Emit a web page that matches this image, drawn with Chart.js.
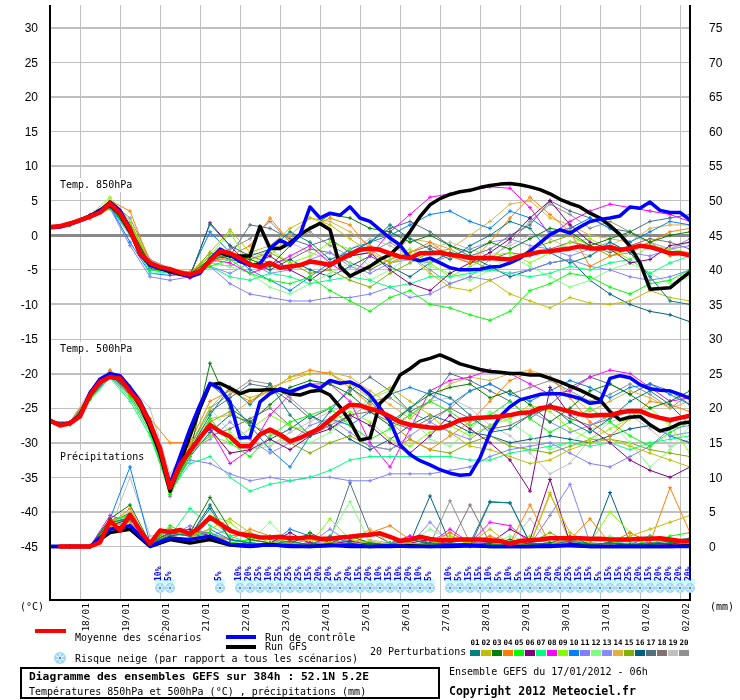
<!DOCTYPE html>
<html>
<head>
<meta charset="utf-8">
<script src="https://cdn.jsdelivr.net/npm/chart.js@4.4.1/dist/chart.umd.min.js"></script>
<style>
body { margin: 0; background: #fff; }
#wrap { position: relative; width: 740px; height: 700px; overflow: hidden; }
#wrap canvas { position: absolute; left: 0; top: 0; }
.t { position: absolute; font-family: "DejaVu Sans Mono", monospace; font-size: 10px; line-height: 12px; white-space: pre; color: #000; }
.b { font-weight: bold; }
.sw { position: absolute; }
.box { position: absolute; left: 20px; top: 667px; width: 420px; height: 32px; border: 2px solid #000; box-sizing: border-box; }
</style>
</head>
<body>
<div id="wrap">
<canvas id="chart" width="740" height="700"></canvas>

<div class="sw" style="left:35px;top:629px;width:31px;height:4px;background:#ff0000"></div>
<div class="t" style="left:75px;top:632px">Moyenne des scénarios</div>
<div class="sw" style="left:226px;top:635px;width:30px;height:4px;background:#0000ff"></div>
<div class="t" style="left:265px;top:632px">Run de contrôle</div>
<div class="sw" style="left:226px;top:645px;width:30px;height:4px;background:#000"></div>
<div class="t" style="left:265px;top:641px">Run GFS</div>
<div class="t" style="left:75px;top:653px">Risque neige (par rapport a tous les scénarios)</div>
<div class="t" style="left:370px;top:646px">20 Perturbations</div>
<div id="perts"></div>

<div class="box"></div>
<div class="t b" style="left:29px;top:670px;font-size:11.3px;line-height:13px">Diagramme des ensembles GEFS sur 384h : 52.1N 5.2E</div>
<div class="t" style="left:29px;top:686px">Températures 850hPa et 500hPa (°C) , précipitations (mm)</div>
<div class="t" style="left:449px;top:666px">Ensemble GEFS du 17/01/2012 - 06h</div>
<div class="t b" style="left:449px;top:685px;font-size:11.5px;line-height:13px">Copyright 2012 Meteociel.fr</div>
</div>

<script>
// hours since 17/01/2012 06h
const hours6 = Array.from({length: 65}, (_, i) => i * 6);
const hours12 = Array.from({length: 33}, (_, i) => i * 12);
const precipHours = hours6.slice(1);

const dayLabels = ['18/01','19/01','20/01','21/01','22/01','23/01','24/01','25/01','26/01','27/01','28/01','29/01','30/01','31/01','01/02','02/02'];
const dayHours = dayLabels.map((d, i) => 18 + 24 * i);
const tempTicks = [30,25,20,15,10,5,0,-5,-10,-15,-20,-25,-30,-35,-40,-45];
const mmTicks = [75,70,65,60,55,50,45,40,35,30,25,20,15,10,5,0];

// axis range (°C), mm axis is shifted by 45
const T_MAX = 33.3;
const T_MIN = -52.74;

// ensemble mean (6h)
const mean850 = [1.2,1.3,1.7,2.2,2.7,3.3,4.6,3.2,0.8,-2.6,-4.0,-4.6,-4.9,-5.4,-5.7,-5.2,-3.7,-2.3,-2.6,-3.3,
  -4.2,-4.6,-4.0,-4.7,-4.5,-4.3,-3.8,-4.0,-4.3,-3.5,-2.8,-2.1,-1.9,-2.1,-2.6,-3.1,-3.3,-2.6,-2.6,-2.5,
  -2.8,-3.0,-3.3,-3.3,-3.3,-3.4,-3.5,-3.0,-2.7,-2.4,-2.3,-2.1,-1.9,-1.6,-1.9,-1.9,-1.7,-2.1,-1.9,-1.5,
  -1.7,-2.1,-2.6,-2.6,-2.9];
const mean500 = [-26.8,-27.5,-27.2,-26.2,-23.1,-21.2,-20.5,-20.7,-22.6,-24.3,-27.2,-30.8,-36.5,-33.2,-31.2,-29.3,-27.4,-28.4,-29.1,-30.5,
  -30.5,-28.8,-28.1,-28.8,-29.8,-29.3,-28.6,-27.9,-26.7,-25.5,-24.5,-24.6,-25.1,-25.5,-26.2,-27.0,-27.4,-27.6,-27.8,-27.9,
  -27.4,-26.7,-26.5,-26.4,-26.3,-26.2,-26.0,-25.7,-25.6,-25.0,-24.8,-25.1,-25.5,-25.9,-26.1,-26.0,-26.0,-25.6,-25.4,-25.4,
  -26.0,-26.4,-26.7,-26.4,-26.1];
const meanPrecip = [0,0,0,0,0.6,3.7,2.3,4.6,2.3,0.4,2.3,2.1,2.4,1.8,2.8,4.2,3.3,2.3,1.8,1.6,
  1.3,1.3,1.4,1.2,1.2,1.4,1.1,1.1,1.3,1.4,1.6,1.7,1.9,1.4,0.8,1.0,1.4,1.1,0.9,0.9,
  1.0,1.0,1.0,0.9,0.8,0.4,0.8,0.9,1.0,1.2,1.2,1.2,1.2,1.1,1.1,1.0,1.0,1.0,1.1,1.1,
  1.2,1.0,0.8,0.8];

// control run (6h)
const ctrl850 = [1.1,1.2,1.6,2.1,2.8,3.5,4.8,3.6,1.0,-2.8,-4.3,-4.8,-5.0,-5.5,-6.0,-5.5,-3.5,-2.0,-2.8,-3.8,
  -4.3,-4.2,-1.9,-0.7,-1.4,0.1,4.1,2.5,3.2,2.9,4.1,2.5,2.0,0.8,-0.4,-1.4,-3.3,-3.7,-3.3,-4.0,
  -4.7,-5.0,-5.0,-4.9,-4.6,-4.5,-4.0,-3.3,-2.3,-1.1,0.1,0.8,0.3,1.2,2.0,2.3,2.5,2.8,4.1,3.9,
  4.8,3.6,3.3,3.3,2.2];
const ctrl500 = [-26.9,-27.4,-27.1,-26.0,-22.8,-20.8,-20.0,-20.3,-22.0,-24.0,-27.0,-31.0,-36.0,-32.0,-28.0,-24.5,-21.4,-22.2,-24.1,-29.3,
  -29.2,-24.1,-22.9,-22.2,-22.6,-22.1,-21.6,-22.1,-21.0,-21.4,-21.2,-21.9,-23.1,-25.0,-26.9,-30.3,-31.7,-32.6,-33.2,-33.9,
  -34.4,-34.7,-34.6,-32.2,-28.6,-26.2,-24.8,-23.8,-23.4,-23.0,-22.9,-22.9,-23.2,-23.6,-24.3,-24.1,-20.7,-20.3,-20.6,-21.6,
  -22.2,-22.4,-22.5,-23.0,-23.6];
const ctrlPrecip = [0,0,0,2.5,3.0,0.1,1.2,1.0,1.5,0.3,0.1,0.2,0.1,0,0.1,0.2,0,0.1,0,0,0.1,0.2,0,0,0,0.1,0.1,0,0,0,0,0,0];

// GFS operational run (6h)
const gfs850 = [1.2,1.3,1.7,2.2,2.8,3.6,4.4,3.0,0.5,-2.5,-4.2,-4.8,-5.2,-5.6,-5.9,-5.3,-3.5,-2.5,-3.0,-3.0,
  -3.0,1.3,-1.9,-1.9,-1.1,0.1,1.0,1.7,0.8,-4.5,-5.9,-5.2,-4.5,-3.5,-2.8,-1.4,0.5,2.7,4.4,5.3,
  5.9,6.3,6.5,6.9,7.2,7.4,7.5,7.3,7.0,6.6,6.0,5.2,4.6,4.1,3.2,2.5,1.4,0.1,-1.6,-4.0,
  -7.8,-7.7,-7.6,-6.4,-5.3];
const gfs500 = [-26.8,-27.4,-27.2,-26.1,-22.9,-20.9,-20.2,-20.5,-22.4,-24.6,-27.8,-31.5,-37.0,-33.0,-29.0,-25.0,-21.6,-21.4,-22.1,-22.9,
  -22.4,-22.4,-22.3,-22.4,-22.9,-23.1,-22.6,-22.4,-23.1,-24.8,-26.9,-29.6,-29.3,-24.3,-22.9,-20.2,-19.3,-18.2,-17.8,-17.3,
  -17.9,-18.6,-19.0,-19.4,-19.7,-19.8,-20.0,-20.0,-20.2,-20.2,-20.7,-21.2,-21.8,-22.4,-23.1,-23.8,-25.5,-26.7,-26.3,-26.2,
  -27.4,-28.3,-27.9,-27.2,-27.0];
const gfsPrecip = [0,0,0,2.0,2.5,0.0,1.0,0.5,1.0,0.2,0,0.3,0,0,0.2,0,0,0,0.1,0,0,0.1,0,0,0,0,0.2,0,0,0,0,0,0.1];

// 20 perturbations (12h), members 01..20
const pertColors = ['#008080','#c0c000','#008000','#ff8000','#00ff00','#800080','#00ff80','#ff00ff','#80ff00','#0080ff',
  '#8080ff','#80ff80','#8888ff','#e0b040','#80b000','#006080','#507080','#807070','#c0c0c0','#909090'];

const pert850 = [
  [1.2,1.5,2.6,4.0,0.8,-4.5,-5.2,-5.8,1.6,-1.5,-3.0,-2.0,0.5,-1.0,-3.5,-2.5,-1.0,1.5,-0.5,-2.0,-3.5,-1.5,0.0,2.0,1.0,-2.5,-4.0,-3.0,-1.0,-2.5,-6.0,-9.5,-10.0],
  [1.1,1.6,2.5,3.8,1.5,-3.8,-5.1,-5.5,-2.5,0.8,-2.5,-1.5,1.0,2.5,1.5,-0.5,-2.5,-4.0,-3.0,-5.5,-7.5,-8.0,-6.5,-8.5,-9.5,-10.5,-9.0,-9.8,-10.0,-9.5,-8.0,-9.0,-9.5],
  [1.2,1.7,2.9,4.6,1.2,-4.3,-5.3,-5.6,-3.5,-3.0,-3.5,-4.5,-1.5,1.0,3.0,2.5,1.0,0.5,-1.0,0.0,-1.5,-2.5,-1.0,-2.0,-0.5,1.0,0.5,-1.5,-0.5,0.5,-1.0,0.0,0.5],
  [1.3,1.6,2.8,5.0,3.5,-4.0,-5.0,-5.3,-4.0,-3.0,-1.5,2.5,-1.0,1.0,2.5,1.5,-2.0,-4.0,-2.5,-1.0,-3.0,-4.0,-1.0,2.5,5.5,3.0,0.5,-4.5,-3.0,-2.5,-1.0,0.5,1.0],
  [1.2,1.5,2.7,4.3,0.5,-5.0,-5.2,-5.7,-4.5,-3.5,-5.5,-6.5,-7.0,-6.0,-8.0,-9.5,-11.0,-9.0,-8.0,-10.0,-10.5,-11.5,-12.3,-11.0,-8.0,-7.0,-5.5,-6.0,-7.5,-8.5,-7.0,-6.5,-5.0],
  [1.2,1.6,2.7,4.3,1.0,-4.2,-5.5,-6.0,1.8,-1.5,-4.5,-3.0,-5.0,-6.5,-4.5,-3.0,-2.5,-5.0,-7.0,-8.0,-5.5,-4.0,-2.5,-0.5,2.5,5.0,1.5,-1.0,-2.0,-4.0,-3.5,-1.5,-1.0],
  [1.1,1.5,2.6,4.0,0.2,-5.5,-5.4,-5.8,-4.5,-6.0,-6.5,-5.5,-6.0,-7.0,-6.5,-6.0,-6.5,-7.5,-7.0,-6.0,-6.0,-5.5,-5.0,-5.5,-6.0,-5.5,-4.5,-5.0,-4.0,-3.5,-5.5,-4.0,-3.0],
  [1.3,1.7,2.8,4.5,1.0,-4.0,-5.5,-6.2,-3.5,-4.0,-5.5,-4.5,-3.0,-1.5,-4.0,-6.0,-3.0,0.5,3.0,5.5,6.0,6.5,7.0,6.8,4.0,0.0,2.0,3.5,4.5,4.0,3.5,3.0,2.0],
  [1.2,1.6,2.9,5.5,2.0,-3.8,-5.0,-5.4,-3.0,0.5,-4.5,-2.0,-4.0,-3.0,-1.0,-2.0,-4.5,-3.5,-2.0,-4.0,-6.0,-4.5,-3.0,-2.5,-4.0,-2.5,-1.0,-0.5,-2.0,-3.5,-1.5,-2.0,-2.5],
  [1.2,1.6,2.6,4.1,-1.0,-5.5,-5.8,-5.6,0.5,-2.5,-5.0,-6.5,-8.0,-6.0,-4.0,-2.0,-1.0,0.0,1.5,3.0,3.5,2.0,1.0,3.5,2.5,0.5,1.0,2.5,1.0,-1.0,0.5,2.0,1.5],
  [1.1,1.4,2.4,3.9,-1.5,-6.0,-6.5,-6.0,-4.5,-7.0,-8.5,-9.0,-9.5,-9.5,-9.0,-9.0,-8.5,-7.5,-9.0,-8.5,-7.0,-6.0,-6.5,-5.5,-5.0,-4.0,-3.5,-4.5,-5.0,-6.0,-6.5,-6.0,-5.0],
  [1.2,1.5,2.7,4.4,0.5,-4.5,-5.2,-5.5,-4.0,-4.5,-5.5,-7.5,-8.5,-7.0,-5.5,-4.0,-6.5,-5.0,-3.0,-4.5,-5.5,-6.5,-5.0,-3.0,-4.5,-6.0,-7.5,-6.5,-5.0,-4.0,-5.5,-7.0,-6.0],
  [1.2,1.6,2.7,4.0,0.0,-5.0,-5.5,-5.9,-4.5,-5.5,-4.0,-5.5,-5.0,-3.5,-2.5,-4.5,-5.5,-4.0,-3.5,-4.0,-3.0,-2.0,-1.0,-0.5,-1.5,-2.0,-3.0,-2.0,-1.0,-2.5,-3.0,-2.0,-1.5],
  [1.3,1.7,2.9,4.5,1.5,-4.0,-5.0,-5.3,-3.5,-3.5,-2.5,-3.0,0.0,2.5,2.0,0.5,-1.5,-3.0,-0.5,-1.0,-2.0,0.0,2.0,4.5,5.0,2.5,1.5,0.0,-0.5,-1.0,1.0,1.5,1.5],
  [1.2,1.6,2.8,4.4,0.8,-4.5,-5.2,-5.8,-3.8,-2.5,-3.5,-2.5,-4.0,-5.5,-5.0,-6.5,-7.5,-5.5,-4.0,-2.5,-2.0,-3.5,-5.0,-4.0,-2.0,-1.0,0.0,-1.5,-3.0,-2.0,-1.0,-3.0,-2.5],
  [1.1,1.5,2.6,4.2,0.3,-4.8,-5.3,-5.7,-2.5,-3.5,-4.0,-5.0,-3.5,-5.0,-6.0,-4.5,-3.0,-4.5,-6.0,-4.0,-2.5,-3.0,-4.5,-6.0,-5.0,-4.0,-3.5,-6.5,-8.5,-10.0,-11.0,-11.5,-12.5],
  [1.2,1.6,2.7,4.3,1.8,-3.9,-5.2,-5.6,-3.0,-3.0,1.5,1.0,-0.5,-1.5,-0.5,-2.5,-1.0,1.0,2.0,0.5,-1.5,-3.0,-2.0,0.0,1.5,5.0,3.5,2.5,1.0,0.5,2.0,2.5,3.0],
  [1.2,1.5,2.6,4.0,0.5,-4.6,-5.3,-6.0,-4.0,-4.5,-3.0,-4.0,-3.5,-2.0,-2.5,-4.0,-5.0,-3.5,-2.5,-1.5,-3.0,-4.0,-3.5,-2.5,-3.0,-2.0,-1.0,-1.5,-2.5,-1.5,-0.5,-1.0,-2.0],
  [1.3,1.7,2.9,4.7,1.4,-4.0,-5.0,-5.5,-3.5,-2.5,-3.5,-2.0,-1.0,-2.5,-3.5,-2.0,-0.5,-1.5,-3.0,-2.0,-1.0,-2.0,-3.0,-1.5,0.0,-0.5,-2.0,-3.0,-1.5,0.0,-1.0,-2.0,-1.0],
  [1.3,1.8,3.0,4.8,2.5,-3.5,-4.8,-5.4,-3.0,-2.0,-0.5,2.0,-1.0,0.5,-1.5,-3.0,-2.5,-1.0,-3.0,-5.0,-7.0,-6.0,-3.5,-1.0,2.0,4.5,3.0,1.0,2.0,0.5,-1.0,-2.0,-0.5]
];

const pert500 = [
  [-27,-27.3,-23.5,-20.0,-22.5,-27.5,-37.0,-31.0,-26.0,-22.0,-24.5,-21.5,-26.0,-29.0,-25.5,-22.0,-24.0,-27.0,-25.0,-22.5,-23.5,-26.0,-28.5,-28.0,-26.0,-24.5,-27.0,-28.5,-26.5,-24.0,-22.5,-24.5,-27.5],
  [-27,-27.2,-23.2,-19.8,-22.2,-26.8,-36.0,-30.5,-25.0,-22.0,-23.5,-22.5,-20.5,-20.0,-20.0,-21.5,-23.5,-22.0,-24.0,-26.0,-28.5,-30.5,-31.0,-32.0,-33.0,-32.5,-31.0,-30.0,-29.5,-30.5,-31.5,-32.5,-33.5],
  [-27,-27.2,-23.4,-20.1,-22.8,-27.3,-36.8,-31.5,-18.5,-25.0,-27.0,-24.5,-22.0,-21.0,-21.5,-23.0,-25.5,-27.5,-25.0,-23.0,-22.0,-21.5,-23.5,-22.5,-24.5,-27.0,-25.0,-22.5,-21.5,-23.0,-25.0,-24.0,-22.5],
  [-27,-27.0,-23.0,-19.5,-22.0,-26.5,-30.0,-30.0,-24.0,-22.5,-24.0,-22.5,-20.5,-19.5,-20.0,-22.0,-24.5,-27.0,-29.5,-31.0,-29.0,-27.0,-24.0,-21.0,-19.8,-20.5,-23.5,-27.0,-29.0,-26.5,-24.0,-24.5,-25.5],
  [-27,-27.3,-23.7,-20.5,-23.5,-28.5,-37.5,-32.0,-26.5,-30.0,-32.0,-29.0,-27.0,-26.0,-25.0,-27.5,-29.5,-28.0,-26.0,-24.0,-25.5,-27.5,-26.0,-24.0,-26.5,-28.5,-27.0,-25.0,-27.0,-29.0,-30.5,-28.5,-27.0],
  [-27,-27.2,-23.3,-20.0,-22.6,-27.0,-36.5,-31.0,-28.0,-31.5,-31.0,-29.5,-31.0,-29.0,-28.0,-26.0,-27.5,-30.0,-31.5,-29.0,-26.0,-28.0,-30.0,-32.5,-37.0,-22.0,-26.0,-28.0,-30.0,-32.5,-34.0,-35.0,-33.5],
  [-27,-27.4,-23.8,-20.6,-24.0,-29.0,-37.0,-33.0,-32.0,-35.0,-37.0,-36.0,-35.5,-35.0,-34.0,-32.5,-32.0,-32.0,-32.0,-32.0,-32.0,-32.5,-32.5,-31.5,-31.0,-30.5,-30.0,-30.5,-30.0,-31.0,-30.0,-29.5,-29.0],
  [-27,-27.1,-23.2,-20.0,-22.6,-27.2,-37.5,-30.5,-28.0,-33.0,-31.0,-26.0,-23.0,-21.5,-21.5,-24.0,-30.0,-33.5,-28.0,-22.5,-21.0,-20.5,-19.5,-20.0,-21.5,-23.0,-22.5,-20.5,-19.5,-20.0,-22.0,-24.0,-23.5],
  [-27,-27.2,-23.4,-20.2,-23.0,-27.8,-37.2,-31.5,-29.0,-30.0,-28.0,-26.0,-27.5,-28.5,-27.0,-25.5,-27.0,-29.5,-30.5,-28.5,-27.5,-29.0,-27.5,-26.5,-24.5,-25.5,-28.0,-29.5,-28.0,-26.5,-25.0,-27.5,-31.5],
  [-27,-27.3,-23.5,-20.2,-22.7,-27.0,-35.5,-29.0,-21.5,-24.0,-27.5,-31.0,-33.5,-29.0,-26.5,-27.5,-25.5,-23.0,-22.0,-23.0,-24.5,-22.5,-21.5,-23.0,-24.0,-22.5,-21.0,-22.0,-23.5,-22.0,-21.5,-23.0,-24.5],
  [-27,-27.3,-23.6,-20.3,-23.2,-28.0,-36.8,-32.5,-33.0,-34.5,-35.5,-35.0,-35.5,-35.0,-35.0,-35.5,-35.5,-34.5,-34.5,-34.5,-34.0,-33.5,-32.0,-31.0,-30.5,-30.0,-31.5,-33.0,-33.5,-32.0,-30.5,-28.0,-27.5],
  [-27,-27.2,-23.4,-20.1,-22.9,-27.5,-36.5,-31.5,-25.0,-28.5,-31.0,-30.0,-29.5,-30.0,-28.5,-26.0,-23.5,-22.5,-26.0,-29.5,-30.5,-28.0,-25.5,-27.0,-29.0,-31.0,-30.0,-28.0,-27.0,-30.0,-33.5,-31.0,-27.5],
  [-27,-27.1,-23.3,-19.9,-22.4,-27.0,-36.6,-31.0,-29.5,-27.0,-29.5,-31.5,-30.0,-27.5,-26.5,-28.5,-30.5,-31.0,-29.0,-27.0,-28.5,-29.5,-27.5,-26.0,-25.5,-27.0,-28.5,-27.5,-26.0,-25.5,-27.5,-29.0,-28.5],
  [-27,-27.1,-23.1,-19.7,-22.2,-26.8,-36.2,-30.8,-26.5,-26.0,-24.0,-22.0,-21.0,-20.0,-19.8,-20.5,-22.5,-24.5,-26.5,-24.0,-21.5,-20.5,-21.0,-20.0,-19.5,-20.5,-23.0,-25.5,-24.0,-22.5,-23.5,-25.0,-24.0],
  [-27,-27.2,-23.4,-20.1,-22.8,-27.4,-36.9,-31.6,-27.0,-25.5,-27.5,-28.5,-30.0,-31.5,-30.0,-29.0,-30.5,-31.0,-29.5,-31.0,-31.5,-30.0,-29.0,-30.5,-31.0,-31.5,-30.5,-29.5,-29.5,-30.0,-31.0,-31.5,-32.0],
  [-27,-27.3,-23.6,-20.3,-23.1,-27.9,-37.2,-32.0,-28.5,-26.0,-27.0,-29.5,-28.0,-26.0,-27.5,-29.5,-31.0,-29.5,-27.5,-26.0,-27.0,-28.5,-29.0,-30.0,-29.5,-29.0,-29.5,-30.0,-29.0,-28.0,-27.5,-29.0,-30.0],
  [-27,-27.1,-23.2,-19.9,-22.3,-26.9,-36.0,-30.5,-25.5,-23.5,-21.5,-22.0,-24.0,-26.5,-25.0,-22.5,-20.5,-22.5,-25.5,-24.0,-20.0,-21.0,-22.5,-24.0,-26.5,-24.5,-22.0,-20.5,-21.5,-23.0,-21.5,-22.5,-24.5],
  [-27,-27.2,-23.3,-20.0,-22.5,-27.1,-36.7,-31.2,-29.0,-28.0,-26.5,-25.0,-27.5,-29.0,-27.5,-26.0,-25.5,-27.0,-28.0,-26.5,-25.0,-26.5,-28.0,-27.5,-26.0,-25.0,-26.5,-27.5,-26.5,-25.5,-26.0,-27.0,-26.0],
  [-27,-27.0,-22.5,-19.5,-21.8,-25.0,-34.5,-30.0,-27.5,-29.0,-31.0,-30.5,-28.5,-27.0,-25.5,-24.5,-25.5,-27.5,-26.0,-24.0,-23.5,-25.0,-27.5,-29.0,-31.5,-34.5,-33.0,-29.5,-27.0,-26.0,-28.0,-30.5,-29.5],
  [-27,-27.1,-23.3,-19.8,-22.3,-27.2,-37.8,-30.5,-25.0,-23.0,-21.0,-21.5,-23.5,-26.0,-28.0,-26.5,-24.0,-23.5,-25.5,-27.0,-25.0,-22.5,-21.5,-23.0,-22.0,-21.0,-22.5,-24.0,-23.0,-21.5,-23.0,-25.0,-23.0]
];

const pertPrecip = [
  [0,0,0,3.5,4.0,0.5,2.0,1.5,5.5,1.0,0.5,0.3,0.8,0.2,1.5,0.5,0.0,0.3,1.0,0.5,0.2,0.0,6.4,6.3,0.5,0.2,0.8,0.3,0.5,0.2,0.4,0.8,1.2],
  [0,0,0,3.0,3.5,0.3,2.5,1.5,2.5,4.0,2.0,0.5,0.3,1.0,0.5,0.2,0.8,0.3,0.5,0.2,1.0,0.5,2.5,0.3,0.2,7.5,2.0,0.5,0.3,1.5,2.5,3.5,4.5],
  [0,0,0,4.0,6.0,0.5,1.5,2.0,7.1,2.5,1.0,0.5,0.3,2.0,0.5,1.5,0.5,0.2,1.0,0.3,0.5,0.2,0.5,1.0,0.3,0.5,1.5,0.3,0.5,0.2,0.3,0.5,1.0],
  [0,0,0,3.2,5.5,0.2,1.0,1.0,1.5,1.0,2.5,1.5,0.5,0.3,0.5,0.2,2.0,3.0,1.0,0.5,2.0,0.5,1.5,0.5,6.0,0.3,1.0,4.0,0.5,2.0,0.5,8.5,2.0],
  [0,0,0,3.8,4.5,0.3,3.0,1.5,2.0,0.5,1.0,1.5,0.5,0.2,0.5,0.3,0.3,0.5,0.2,0.3,1.0,0.5,0.2,0.5,0.3,0.5,0.2,0.3,0.5,1.0,0.3,1.5,2.0],
  [0,0,0,3.0,4.0,0.5,2.0,2.5,1.5,0.5,0.3,0.5,2.0,0.5,0.3,0.8,0.3,0.2,0.5,1.0,0.3,0.5,0.5,2.5,1.0,9.7,0.5,0.3,0.5,0.2,0.5,0.3,0.8],
  [0,0,0,3.5,4.5,0.2,1.5,5.5,3.0,1.5,0.5,0.3,0.5,1.5,0.3,0.5,0.2,0.5,0.3,0.2,0.5,0.3,0.2,0.5,0.2,0.5,1.0,0.3,0.5,0.8,1.5,0.5,0.5],
  [0,0,0,4.5,3.5,0.5,2.5,2.0,1.0,0.5,0.3,0.5,0.3,0.5,0.2,0.5,0.3,0.5,1.5,0.5,2.5,0.5,3.5,3.0,0.5,0.3,0.5,0.2,0.5,0.3,0.5,0.3,0.5],
  [0,0,0,3.2,4.0,0.3,2.0,1.8,4.5,3.5,1.0,0.5,0.5,0.3,4.0,1.0,0.5,0.3,0.5,0.2,1.5,0.5,0.3,0.5,1.5,0.5,0.3,0.5,5.0,2.0,0.5,0.3,0.5],
  [0,0,0,4.0,11.5,0.5,2.0,1.5,2.5,1.0,0.5,0.3,2.5,1.5,0.5,0.3,0.5,0.2,0.5,0.3,0.5,0.2,0.5,0.3,0.5,0.2,1.0,0.3,0.5,0.2,1.5,0.5,0.3],
  [0,0,0,3.0,4.0,0.3,1.5,3.0,1.5,2.5,1.0,0.5,0.3,0.5,2.5,0.5,0.3,0.5,1.5,0.5,0.3,0.5,0.3,0.5,0.2,4.5,9.0,0.5,0.3,1.0,0.5,0.3,1.0],
  [0,0,0,3.5,5.0,0.3,2.5,2.0,1.0,0.5,0.8,3.5,0.5,0.3,1.5,6.5,0.5,0.3,0.5,2.5,1.0,0.5,0.3,1.5,0.5,0.3,0.5,0.3,1.5,0.5,0.3,0.8,0.3],
  [0,0,0,3.0,3.5,0.5,1.5,2.0,1.5,1.0,0.5,0.3,0.5,0.2,1.0,0.3,0.5,0.2,0.3,3.5,0.5,0.3,0.5,0.3,1.0,0.5,0.3,0.5,0.2,0.3,0.5,0.2,0.5],
  [0,0,0,3.8,4.5,0.3,2.0,1.5,1.5,0.5,1.0,0.5,0.3,1.0,0.5,0.8,2.5,0.5,0.3,0.5,0.3,0.5,1.0,0.5,0.3,7.8,0.5,0.3,0.5,0.3,1.5,0.5,0.8],
  [0,0,0,3.3,4.2,0.2,1.5,1.0,4.0,1.5,2.0,1.0,0.5,0.3,0.5,0.3,0.5,0.2,0.5,0.3,1.5,0.5,0.3,0.5,0.5,2.0,0.5,0.3,0.5,0.2,0.5,0.3,0.5],
  [0,0,0,3.6,4.8,0.4,2.5,1.5,6.0,1.0,0.5,0.3,0.5,1.5,0.5,0.3,0.5,0.3,0.5,7.3,0.5,0.3,0.5,0.3,0.5,0.3,0.5,0.3,7.8,0.5,0.3,0.5,0.3],
  [0,0,0,3.4,4.0,0.3,1.8,2.2,2.0,0.5,1.0,0.5,0.3,0.5,1.0,9.2,2.0,0.5,0.3,0.5,0.3,0.5,6.5,6.3,0.5,0.3,0.5,0.3,0.5,0.3,0.5,0.3,0.5],
  [0,0,0,3.0,3.5,0.3,1.5,1.0,1.5,0.5,0.3,0.5,0.3,0.5,0.3,0.5,0.3,0.5,0.3,0.5,0.3,6.0,0.5,0.3,0.5,0.3,0.5,0.3,0.5,0.3,0.5,0.3,0.5],
  [0,0,0,2.5,10.0,1.5,2.0,1.5,1.5,0.5,0.3,0.5,0.3,0.5,0.3,0.5,1.0,0.5,0.3,0.5,2.0,0.5,1.5,0.5,4.0,0.5,0.3,0.5,1.0,0.3,0.5,1.0,0.3],
  [0,0,0,3.3,4.3,0.3,1.8,1.5,2.0,1.0,0.5,0.3,1.5,0.5,0.3,1.0,0.5,0.3,0.5,0.3,6.6,0.5,0.3,0.5,0.3,0.5,0.3,0.5,0.3,0.5,0.3,0.5,0.3]
];

// snow risk (% of scenarios)
const snowHours = [66,72,102,114,120,126,132,138,144,150,156,162,168,174,180,186,192,198,204,210,216,222,228,
  240,246,252,258,264,270,276,282,288,294,300,306,312,318,324,330,336,342,348,354,360,366,372,378,384];
const snowPct = [10,5,5,10,20,25,10,25,25,25,15,20,20,5,20,15,20,10,15,10,20,10,5,
  10,5,15,15,10,5,10,5,15,15,20,20,25,15,15,5,15,15,25,20,15,20,20,20,20];

// legend of members
const perts = document.getElementById('perts');
pertColors.forEach((c, i) => {
  const n = document.createElement('div');
  n.className = 't b';
  n.style.cssText = 'left:' + (470 + i * 11) + 'px;top:638px;width:10px;text-align:center;font-size:7.5px;line-height:9px';
  n.textContent = String(i + 1).padStart(2, '0');
  perts.appendChild(n);
  const s = document.createElement('div');
  s.className = 'sw';
  s.style.cssText = 'left:' + (470 + i * 11) + 'px;top:650px;width:10px;height:6px;background:' + c;
  perts.appendChild(s);
});

function pts(hrs, vals) {
  return vals.map((v, i) => ({x: hrs[i], y: v}));
}

const datasets = [];
function thick(hrs, vals, color, w, axis, order) {
  datasets.push({
    data: pts(hrs, vals), borderColor: color, borderWidth: w, pointRadius: 0,
    yAxisID: axis, order: order, borderJoinStyle: 'round', borderCapStyle: 'round'
  });
}
thick(hours6, mean850, '#ff0000', 4.5, 'y', 0);
thick(hours6, mean500, '#ff0000', 4.5, 'y', 0);
thick(precipHours, meanPrecip, '#ff0000', 4.5, 'mm', 0);
thick(hours6, ctrl850, '#0000ff', 3.5, 'y', 1);
thick(hours6, ctrl500, '#0000ff', 3.5, 'y', 1);
thick(hours12, ctrlPrecip, '#0000ff', 3.5, 'mm', 1);
thick(hours6, gfs850, '#000000', 3.5, 'y', 2);
thick(hours6, gfs500, '#000000', 3.5, 'y', 2);
thick(hours12, gfsPrecip, '#000000', 3.5, 'mm', 2);

pertColors.forEach((c, k) => {
  [[pert850[k], 'y'], [pert500[k], 'y'], [pertPrecip[k], 'mm']].forEach(([vals, axis]) => {
    datasets.push({
      data: pts(hours12, vals), borderColor: c, borderWidth: 1,
      pointStyle: 'cross', pointRadius: 2, pointBorderWidth: 1, pointBorderColor: c,
      yAxisID: axis, order: 3
    });
  });
});

function drawFlake(ctx, cx, cy, r) {
  ctx.fillStyle = '#9ed6f5';
  ctx.beginPath();
  ctx.arc(cx, cy, r, 0, 2 * Math.PI);
  ctx.fill();
  ctx.strokeStyle = '#ffffff';
  ctx.lineWidth = 1;
  for (let k = 0; k < 3; k++) {
    const a = k * Math.PI / 3 + Math.PI / 2;
    ctx.beginPath();
    ctx.moveTo(cx - (r - 1) * Math.cos(a), cy - (r - 1) * Math.sin(a));
    ctx.lineTo(cx + (r - 1) * Math.cos(a), cy + (r - 1) * Math.sin(a));
    ctx.stroke();
  }
  ctx.fillStyle = '#3d8fd8';
  ctx.fillRect(cx - 1, cy - 1, 2, 2);
}

const deco = {
  id: 'deco',
  beforeDatasetsDraw(chart) {
    const ctx = chart.ctx;
    ctx.save();
    ctx.font = '10px "DejaVu Sans Mono"';
    ctx.textBaseline = 'middle';
    [['Temp. 850hPa', 185], ['Temp. 500hPa', 349], ['Précipitations', 457]].forEach(([s, py]) => {
      const w = ctx.measureText(s).width;
      ctx.fillStyle = '#fff';
      ctx.fillRect(56, py - 7, w + 8, 14);
      ctx.fillStyle = '#000';
      ctx.fillText(s, 60, py);
    });
    ctx.restore();
  },
  afterDraw(chart) {
    const ctx = chart.ctx;
    const a = chart.chartArea;
    const x = chart.scales.x, y = chart.scales.y, mm = chart.scales.mm;
    ctx.save();
    // frame
    ctx.strokeStyle = '#000';
    ctx.lineWidth = 2;
    ctx.beginPath();
    ctx.moveTo(a.left, a.top);
    ctx.lineTo(a.left, a.bottom);
    ctx.lineTo(a.right, a.bottom);
    ctx.lineTo(a.right, a.top);
    ctx.stroke();

    // y tick labels
    ctx.fillStyle = '#000';
    ctx.font = '12px "Liberation Sans"';
    ctx.textBaseline = 'middle';
    ctx.textAlign = 'right';
    tempTicks.forEach(v => ctx.fillText(String(v), 38, y.getPixelForValue(v) + 1));
    ctx.textAlign = 'left';
    mmTicks.forEach(v => ctx.fillText(String(v), 709, mm.getPixelForValue(v) + 1));

    ctx.font = '10px "DejaVu Sans Mono"';
    ctx.fillText('(°C)', 20, 607);
    ctx.fillText('(mm)', 710, 607);

    // date labels
    ctx.font = '9.5px "DejaVu Sans Mono"';
    ctx.textAlign = 'right';
    dayLabels.forEach((d, i) => {
      ctx.save();
      ctx.translate(x.getPixelForValue(dayHours[i]) + 7, a.bottom + 3);
      ctx.rotate(-Math.PI / 2);
      ctx.fillText(d, 0, 0);
      ctx.restore();
    });

    // snow risk row
    ctx.fillStyle = '#c8ffff';
    snowHours.forEach(h => ctx.fillRect(x.getPixelForValue(h) - 5, 579, 10, 5));
    snowHours.forEach(h => drawFlake(ctx, x.getPixelForValue(h), 588, 5));
    ctx.font = 'bold 8px "DejaVu Sans Mono"';
    ctx.fillStyle = '#0000ff';
    ctx.textAlign = 'left';
    snowHours.forEach((h, i) => {
      ctx.save();
      ctx.translate(x.getPixelForValue(h) - 1, 581);
      ctx.rotate(-Math.PI / 2);
      ctx.fillText(snowPct[i] + '%', 0, 0);
      ctx.restore();
    });

    // legend flake
    drawFlake(ctx, 60, 658, 6);
    ctx.restore();
  }
};

new Chart(document.getElementById('chart'), {
  type: 'line',
  data: { datasets: datasets },
  plugins: [deco],
  options: {
    responsive: false,
    animation: false,
    devicePixelRatio: 1,
    events: [],
    layout: { padding: 0 },
    plugins: { legend: { display: false }, tooltip: { enabled: false } },
    scales: {
      x: {
        type: 'linear', position: 'bottom', min: 0, max: 384,
        afterBuildTicks: s => { s.ticks = dayHours.map(v => ({value: v})); },
        afterFit: s => { s.height = 100; },
        ticks: { display: false },
        border: { display: false },
        grid: { color: '#c0c0c0', lineWidth: 1, drawTicks: false }
      },
      y: {
        type: 'linear', position: 'left', min: T_MIN, max: T_MAX,
        afterBuildTicks: s => { s.ticks = tempTicks.map(v => ({value: v})); },
        afterFit: s => { s.width = 50; },
        ticks: { display: false },
        border: { display: false },
        grid: {
          drawTicks: false,
          color: c => c.tick.value === 0 ? '#8a8a8a' : '#c0c0c0',
          lineWidth: c => c.tick.value === 0 ? 3 : (c.tick.value % 10 === 0 ? 2 : 1)
        }
      },
      mm: {
        type: 'linear', position: 'right', min: T_MIN + 45, max: T_MAX + 45,
        afterFit: s => { s.width = 50; },
        ticks: { display: false },
        border: { display: false },
        grid: { display: false }
      }
    }
  }
});
</script>
</body>
</html>
